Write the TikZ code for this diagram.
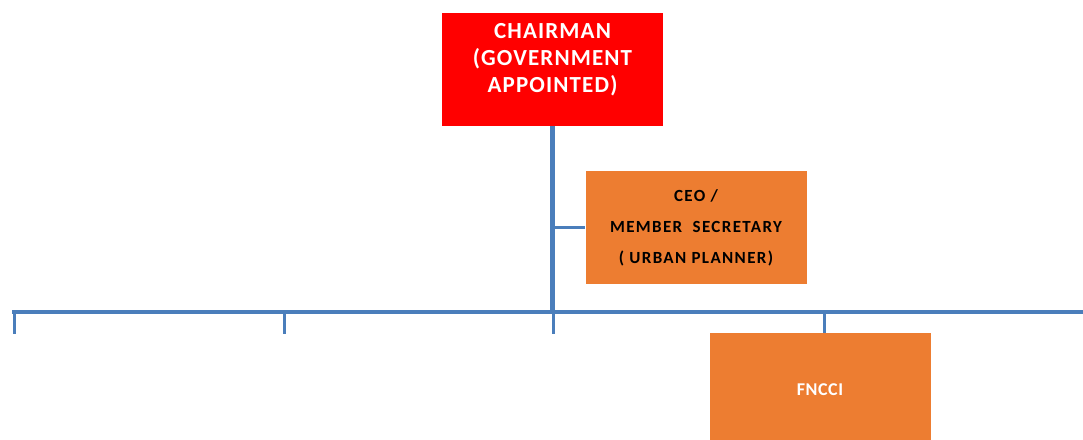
\documentclass[tikz,border=0pt]{standalone}
\usepackage{fontspec}
\setmainfont{Carlito}
\newfontfamily\chairfont{Carlito}[LetterSpace=5]
\newfontfamily\ceofont{Carlito}[LetterSpace=8]
\newfontfamily\memfont{Carlito}[LetterSpace=3]
\usepackage{tikz}
\usetikzlibrary{positioning}
\definecolor{chairred}{HTML}{FF0000}
\definecolor{boxorange}{HTML}{ED7D31}
\definecolor{lineblue}{HTML}{4A7EBB}
\tikzset{
  orgbox/.style = {rectangle, align=center, inner sep=0pt, text centered, minimum width=221pt, minimum height=113pt},
  chair_n/.style = {orgbox, fill=chairred, text=white, font=\chairfont\fontsize{23}{27}\selectfont\bfseries},
  ceo_n/.style = {orgbox, fill=boxorange, text=black, font=\ceofont\fontsize{17}{31}\selectfont\bfseries},
  mem_n/.style = {orgbox, fill=boxorange, text=white, font=\memfont\fontsize{18}{20}\selectfont\bfseries},
  trunk/.style = {draw=lineblue, line width=5pt},
  bus/.style = {draw=lineblue, line width=4pt},
  drop/.style = {draw=lineblue, line width=3pt}
}
\begin{document}
\begin{tikzpicture}[x=1pt, y=-1pt]
    \useasboundingbox (0,0) rectangle (1083,439);
    % boxes
    \node[chair_n] (chairman) at (552.5,69.5) {CHAIRMAN\\(GOVERNMENT\\APPOINTED)\\[-4pt]\mbox{}};
    \node[ceo_n] (ceo) at (696,227.5) {CEO /\\MEMBER\ \ SECRETARY\\( URBAN PLANNER)};
    \node[mem_n] (fncci) at (820,389.5) {FNCCI};
    % bus and drops
    \coordinate (busL) at (12,312);
    \coordinate (busR) at (1083,312);
    \coordinate (hub) at (chairman.south |- busL);
    \coordinate (d1) at (14,334);
    \coordinate (d2) at (284,334);
    \coordinate (d3) at (553,334);
    \coordinate (d4) at (824,334);
    \draw[trunk] (chairman.south) -- (hub);
    \draw[drop] (chairman.south |- ceo.west) -- (ceo.west);
    \draw[bus] (busL) -- (busR);
    \draw[drop] (d1 |- busL) -- (d1);
    \draw[drop] (d2 |- busL) -- (d2);
    \draw[drop] (d3 |- busL) -- (d3);
    \draw[drop] (d4 |- busL) -- (d4 |- fncci.north);
\end{tikzpicture}
\end{document}
